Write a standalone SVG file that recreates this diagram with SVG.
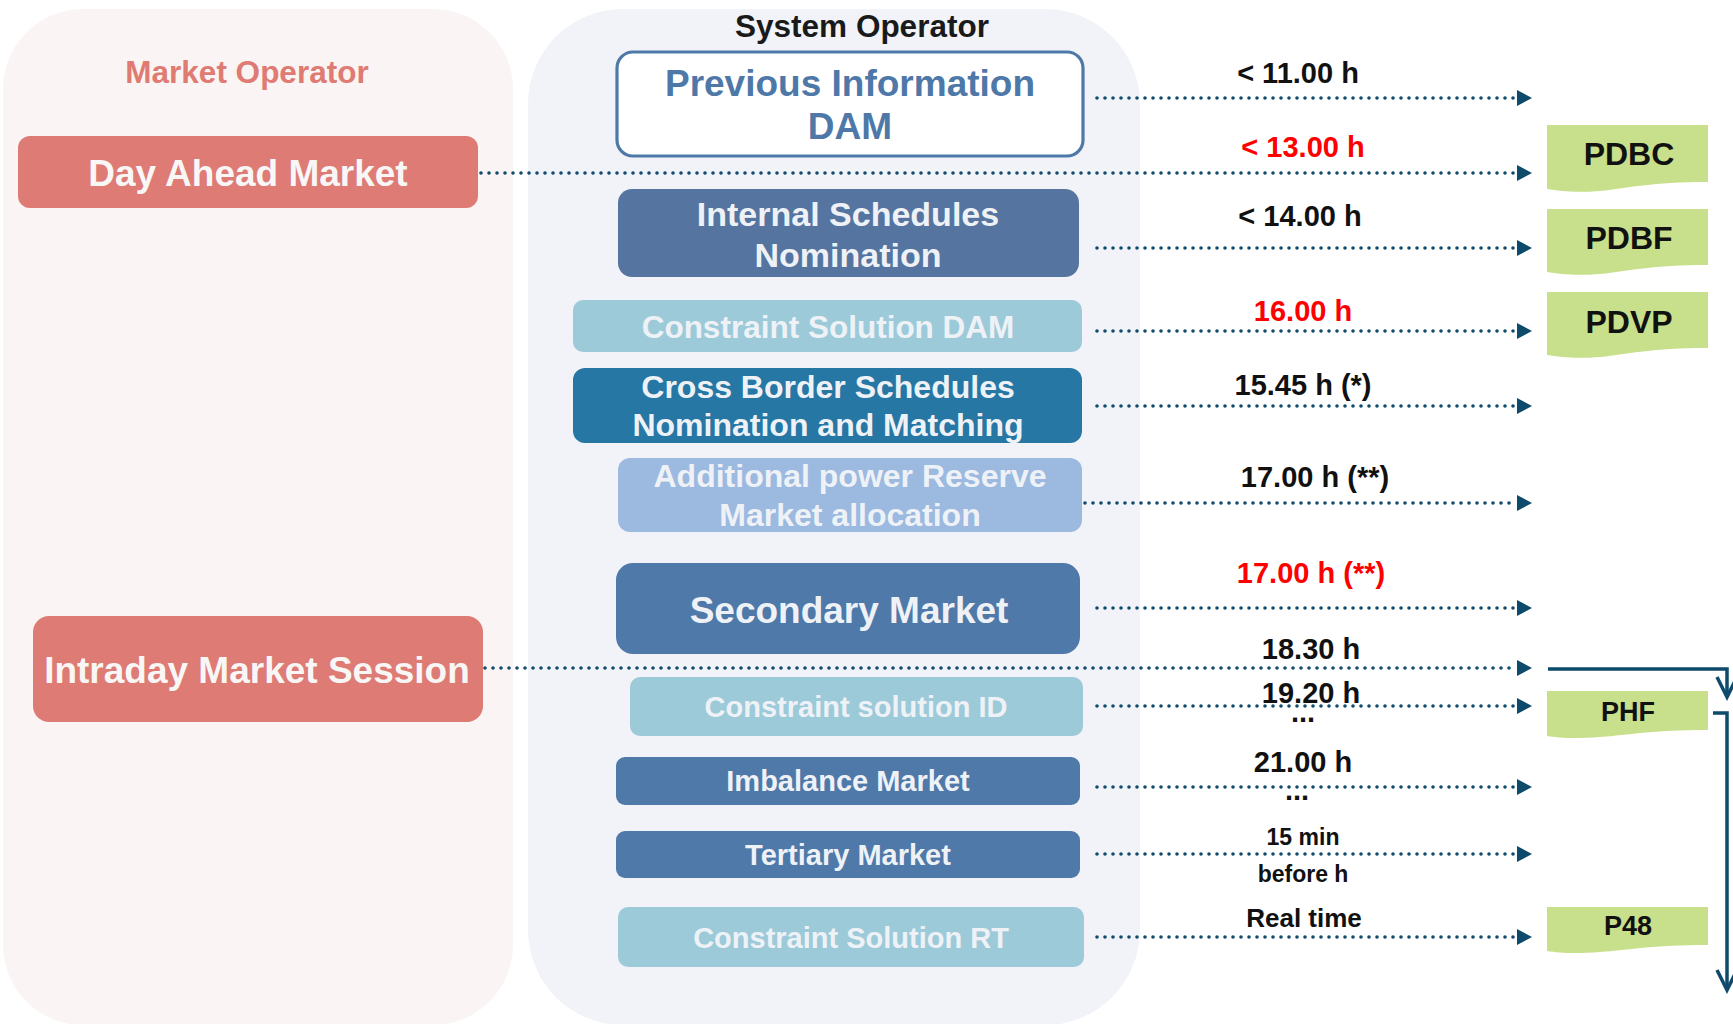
<svg xmlns="http://www.w3.org/2000/svg" width="1733" height="1024" viewBox="0 0 1733 1024">
<style>
text{font-family:"Liberation Sans",Arial,sans-serif;font-weight:bold;text-anchor:middle}
.lt{fill:#eef2f7}
.wt{fill:#f9f6f6}
.blk{fill:#111}
.red{fill:#ff0000}
.t29{font-size:29px}
.dot{fill:none;stroke:#0e4a6b;stroke-width:3.6;stroke-linecap:round;stroke-dasharray:0 8}
.brk{fill:none;stroke:#0e4a6b;stroke-width:3.5}
.doc{fill:#c8df8b}
</style>
<defs>
<marker id="tri" markerUnits="userSpaceOnUse" viewBox="0 0 15 16" refX="0" refY="8" markerWidth="15" markerHeight="16" orient="auto">
<path d="M0,0 L15,8 L0,16 Z" fill="#0e4a6b"/>
</marker>
<marker id="vee" markerUnits="userSpaceOnUse" viewBox="-23 -13 26 26" refX="0" refY="0" markerWidth="26" markerHeight="26" orient="auto" overflow="visible">
<path d="M-20,-10 L0,0 L-20,10" fill="none" stroke="#0e4a6b" stroke-width="3.5"/>
</marker>
</defs>

<g id="panel-market-operator">
<rect x="3" y="9" width="510" height="1016" rx="80" fill="#faf4f4"/>
<text x="247" y="83" style="font-size:31.5px;fill:#df7b73">Market Operator</text>
</g>
<g id="panel-system-operator">
<rect x="528" y="9" width="612" height="1016" rx="95" fill="#f1f3f8"/>
<text x="862" y="37" style="font-size:31.5px;fill:#1a1a1a">System Operator</text>
</g>

<g id="connectors">
<path class="dot" d="M1097,98 H1517" marker-end="url(#tri)"/>
<path class="dot" d="M481,173 H1517" marker-end="url(#tri)"/>
<path class="dot" d="M1097,248 H1517" marker-end="url(#tri)"/>
<path class="dot" d="M1097,331 H1517" marker-end="url(#tri)"/>
<path class="dot" d="M1097,406 H1517" marker-end="url(#tri)"/>
<path class="dot" d="M1085,503 H1517" marker-end="url(#tri)"/>
<path class="dot" d="M1097,608 H1517" marker-end="url(#tri)"/>
<path class="dot" d="M485,668 H1517" marker-end="url(#tri)"/>
<path class="dot" d="M1097,706 H1517" marker-end="url(#tri)"/>
<path class="dot" d="M1097,787 H1517" marker-end="url(#tri)"/>
<path class="dot" d="M1097,854 H1517" marker-end="url(#tri)"/>
<path class="dot" d="M1097,937 H1517" marker-end="url(#tri)"/>
<path class="brk" d="M1548,669 H1727 V697" marker-end="url(#vee)"/>
<path class="brk" d="M1713,713 H1727 V990" marker-end="url(#vee)"/>
</g>

<g id="labels">
<text class="blk t29" x="1298" y="83">&lt; 11.00 h</text>
<text class="red t29" x="1303" y="157">&lt; 13.00 h</text>
<text class="blk t29" x="1300" y="226">&lt; 14.00 h</text>
<text class="red t29" x="1303" y="321">16.00 h</text>
<text class="blk t29" x="1303" y="395">15.45 h (*)</text>
<text class="blk t29" x="1315" y="487">17.00 h (**)</text>
<text class="red t29" x="1311" y="583">17.00 h (**)</text>
<text class="blk t29" x="1311" y="659">18.30 h</text>
<text class="blk t29" x="1311" y="703">19.20 h</text>
<text class="blk t29" x="1303" y="722">...</text>
<text class="blk t29" x="1303" y="772">21.00 h</text>
<text class="blk t29" x="1297" y="800">...</text>
<text class="blk" x="1303" y="845" style="font-size:23px">15 min</text>
<text class="blk" x="1303" y="882" style="font-size:23px">before h</text>
<text class="blk" x="1304" y="927" style="font-size:26px">Real time</text>
</g>

<g id="day-ahead-market">
<rect x="18" y="136" width="460" height="72" rx="12" fill="#dd7b74"/>
<text class="wt" x="248" y="186" style="font-size:37px">Day Ahead Market</text>
</g>
<g id="intraday-market-session">
<rect x="33" y="616" width="450" height="106" rx="16" fill="#dd7b74"/>
<text class="wt" x="257" y="683" style="font-size:37px">Intraday Market Session</text>
</g>

<g id="previous-information-dam">
<rect x="617" y="52" width="466" height="104" rx="16" fill="#ffffff" stroke="#4d78a8" stroke-width="3.2"/>
<text x="850" y="96" style="font-size:37px;fill:#4d78a8">Previous Information</text>
<text x="850" y="139" style="font-size:37px;fill:#4d78a8">DAM</text>
</g>
<g id="internal-schedules-nomination">
<rect x="618" y="189" width="461" height="88" rx="14" fill="#5575a0"/>
<text class="lt" x="848" y="226" style="font-size:34px">Internal Schedules</text>
<text class="lt" x="848" y="267" style="font-size:34px">Nomination</text>
</g>
<g id="constraint-solution-dam">
<rect x="573" y="300" width="509" height="52" rx="10" fill="#9dcad9"/>
<text class="lt" x="828" y="338" style="font-size:31.5px">Constraint Solution DAM</text>
</g>
<g id="cross-border-schedules">
<rect x="573" y="368" width="509" height="75" rx="12" fill="#2677a4"/>
<text class="lt" x="828" y="398" style="font-size:32px">Cross Border Schedules</text>
<text class="lt" x="828" y="436" style="font-size:32px">Nomination and Matching</text>
</g>
<g id="additional-power-reserve">
<rect x="618" y="458" width="464" height="74" rx="12" fill="#9cb9e0"/>
<text class="lt" x="850" y="487" style="font-size:32px">Additional power Reserve</text>
<text class="lt" x="850" y="526" style="font-size:32px">Market allocation</text>
</g>
<g id="secondary-market">
<rect x="616" y="563" width="464" height="91" rx="17" fill="#4f79a8"/>
<text class="lt" x="849" y="623" style="font-size:37px">Secondary Market</text>
</g>
<g id="constraint-solution-id">
<rect x="630" y="677" width="453" height="59" rx="10" fill="#9dcad9"/>
<text class="lt" x="856" y="717" style="font-size:29px">Constraint solution ID</text>
</g>
<g id="imbalance-market">
<rect x="616" y="757" width="464" height="48" rx="9" fill="#4f79a8"/>
<text class="lt" x="848" y="791" style="font-size:29px">Imbalance Market</text>
</g>
<g id="tertiary-market">
<rect x="616" y="831" width="464" height="47" rx="9" fill="#4f79a8"/>
<text class="lt" x="848" y="865" style="font-size:29px">Tertiary Market</text>
</g>
<g id="constraint-solution-rt">
<rect x="618" y="907" width="466" height="60" rx="10" fill="#9dcad9"/>
<text class="lt" x="851" y="948" style="font-size:29px">Constraint Solution RT</text>
</g>

<g id="doc-pdbc">
<path class="doc" d="M1547,125 H1708 V182 C1650,182 1630,188 1600,191 C1575,193 1560,191 1547,189 Z"/>
<text class="blk" x="1629" y="165" style="font-size:32px">PDBC</text>
</g>
<g id="doc-pdbf">
<path class="doc" d="M1547,209 H1708 V265 C1650,265 1630,271 1600,274 C1575,276 1560,274 1547,272 Z"/>
<text class="blk" x="1629" y="249" style="font-size:32px">PDBF</text>
</g>
<g id="doc-pdvp">
<path class="doc" d="M1547,292 H1708 V348 C1650,348 1630,354 1600,357 C1575,359 1560,357 1547,355 Z"/>
<text class="blk" x="1629" y="333" style="font-size:32px">PDVP</text>
</g>
<g id="doc-phf">
<path class="doc" d="M1547,691 H1708 V730 C1650,730 1630,735 1600,737 C1575,739 1560,738 1547,736 Z"/>
<text class="blk" x="1628" y="721" style="font-size:27px">PHF</text>
</g>
<g id="doc-p48">
<path class="doc" d="M1547,907 H1708 V945 C1650,945 1630,950 1600,952 C1575,954 1560,953 1547,951 Z"/>
<text class="blk" x="1628" y="935" style="font-size:27px">P48</text>
</g>
</svg>
